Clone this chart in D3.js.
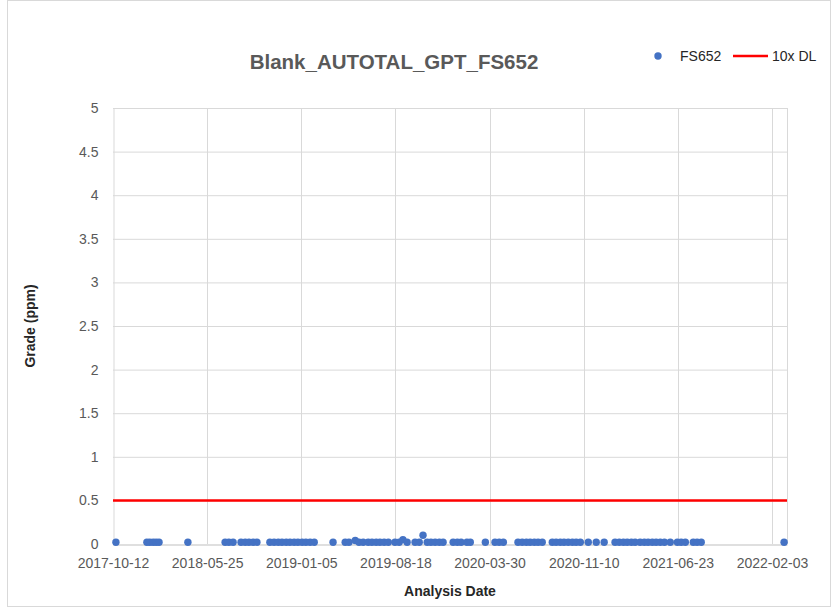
<!DOCTYPE html>
<html><head><meta charset="utf-8">
<script src="https://cdn.jsdelivr.net/npm/d3@7"></script>
<style>body{margin:0;background:#fff}svg{display:block}</style>
</head><body>
<svg id="c" width="832" height="612"></svg>
<script>
const title = "Blank_AUTOTAL_GPT_FS652";
const seriesName = "FS652";
const limitName = "10x DL";
const limitValue = 0.5;
const xTickLabels = ["2017-10-12","2018-05-25","2019-01-05","2019-08-18","2020-03-30","2020-11-10","2021-06-23","2022-02-03"];
const xDomain = ["2017-10-12","2022-03-11"];
const yTicks = [0,0.5,1,1.5,2,2.5,3,3.5,4,4.5,5];
const sampleDates = ["2017-10-19","2018-01-01","2018-01-08","2018-01-16","2018-01-23","2018-01-30","2018-04-09",
"2018-07-07","2018-07-16","2018-07-26","2018-08-14","2018-08-24","2018-09-02","2018-09-12","2018-09-21",
"2018-10-22","2018-11-01","2018-11-11","2018-11-20","2018-11-30","2018-12-09","2018-12-19","2018-12-28",
"2019-01-07","2019-01-16","2019-01-26","2019-02-05","2019-03-22","2019-04-20","2019-04-29","2019-05-14",
"2019-05-23","2019-06-02","2019-06-14","2019-06-23","2019-07-03","2019-07-12","2019-07-22","2019-08-01",
"2019-08-17","2019-08-27","2019-09-05","2019-09-15","2019-10-04","2019-10-14","2019-10-23","2019-11-02",
"2019-11-11","2019-11-21","2019-12-01","2019-12-10","2020-01-03","2020-01-13","2020-01-22","2020-02-05",
"2020-02-13","2020-03-20","2020-04-12","2020-04-22","2020-05-02","2020-06-06","2020-06-16","2020-06-26",
"2020-07-05","2020-07-15","2020-07-24","2020-08-03","2020-08-27","2020-09-05","2020-09-15","2020-09-24",
"2020-10-04","2020-10-14","2020-10-23","2020-11-02","2020-11-21","2020-12-10","2020-12-29","2021-01-24",
"2021-02-03","2021-02-13","2021-02-22","2021-03-04","2021-03-13","2021-03-25","2021-04-04","2021-04-13",
"2021-04-23","2021-05-02","2021-05-12","2021-05-22","2021-06-05","2021-06-22","2021-07-01","2021-07-11",
"2021-07-30","2021-08-08","2021-08-18","2022-03-04"];
const sampleValues = [0.02,0.02,0.02,0.02,0.02,0.02,0.02,
0.02,0.02,0.02,0.02,0.02,0.02,0.02,0.02,
0.02,0.02,0.02,0.02,0.02,0.02,0.02,0.02,
0.02,0.02,0.02,0.02,0.02,0.02,0.02,0.04,
0.02,0.02,0.02,0.02,0.02,0.02,0.02,0.02,
0.02,0.02,0.05,0.02,0.02,0.02,0.1,0.02,
0.02,0.02,0.02,0.02,0.02,0.02,0.02,0.02,
0.02,0.02,0.02,0.02,0.02,0.02,0.02,0.02,
0.02,0.02,0.02,0.02,0.02,0.02,0.02,0.02,
0.02,0.02,0.02,0.02,0.02,0.02,0.02,0.02,
0.02,0.02,0.02,0.02,0.02,0.02,0.02,0.02,
0.02,0.02,0.02,0.02,0.02,0.02,0.02,0.02,
0.02,0.02,0.02,0.02];

const parse = d3.utcParse("%Y-%m-%d");
const font = "'Liberation Sans', Arial, sans-serif";
const svg = d3.select("#c");
const L = 113, R = 787, T = 108, B = 544;

svg.append("rect").attr("x",7.5).attr("y",0.5).attr("width",823).attr("height",606)
  .attr("fill","#fff").attr("stroke","#d9d9d9");

const x = d3.scaleUtc().domain(xDomain.map(parse)).range([L,R]);
const y = d3.scaleLinear().domain([0,5]).range([B,T]);

// gridlines
svg.append("g").selectAll("line").data(yTicks.slice(1)).join("line")
  .attr("x1",L).attr("x2",R).attr("y1",d=>y(d)+0.5).attr("y2",d=>y(d)+0.5)
  .attr("stroke","#d9d9d9");
svg.append("g").selectAll("line").data(xTickLabels.slice(1)).join("line")
  .attr("x1",d=>Math.round(x(parse(d)))+0.5).attr("x2",d=>Math.round(x(parse(d)))+0.5)
  .attr("y1",T).attr("y2",B).attr("stroke","#d9d9d9");
svg.append("line").attr("x1",R+0.5).attr("x2",R+0.5).attr("y1",T).attr("y2",B).attr("stroke","#d9d9d9");

// axes
const yAxis = svg.append("g").attr("transform",`translate(${L+0.5},0)`)
  .call(d3.axisLeft(y).tickValues(yTicks).tickSize(0).tickPadding(15).tickFormat(d3.format("")));
yAxis.select(".domain").attr("stroke","#d9d9d9");
const xAxis = svg.append("g").attr("transform",`translate(0,${B+0.5})`)
  .call(d3.axisBottom(x).tickValues(xTickLabels.map(parse)).tickSize(0).tickPadding(14).tickFormat(d3.utcFormat("%Y-%m-%d")));
xAxis.select(".domain").attr("stroke","#bfbfbf");
svg.selectAll(".tick text").attr("font-family",font).attr("font-size",14).attr("fill","#595959");

// limit line
svg.append("line").attr("x1",L).attr("x2",R).attr("y1",y(limitValue)).attr("y2",y(limitValue))
  .attr("stroke","#ff0000").attr("stroke-width",2.5);

// points
svg.append("g").selectAll("circle").data(sampleDates.map((d,i)=>({d:parse(d),v:sampleValues[i]}))).join("circle")
  .attr("cx",d=>x(d.d)).attr("cy",d=>y(d.v)).attr("r",3.7).attr("fill","#4472c4");

// title
svg.append("text").attr("x",394).attr("y",69).attr("text-anchor","middle")
  .attr("font-family",font).attr("font-weight","bold").attr("font-size",20.5).attr("fill","#595959").text(title);

// legend
svg.append("circle").attr("cx",658).attr("cy",56).attr("r",3.7).attr("fill","#4472c4");
svg.append("text").attr("x",680).attr("y",61).attr("font-family",font).attr("font-size",14).attr("fill","#262626").text(seriesName);
svg.append("line").attr("x1",733).attr("x2",768).attr("y1",56).attr("y2",56).attr("stroke","#ff0000").attr("stroke-width",2.5);
svg.append("text").attr("x",772).attr("y",61).attr("font-family",font).attr("font-size",14).attr("fill","#262626").text(limitName);

// axis titles
svg.append("text").attr("x",450).attr("y",596).attr("text-anchor","middle")
  .attr("font-family",font).attr("font-weight","bold").attr("font-size",14).attr("fill","#262626").text("Analysis Date");
svg.append("text").attr("transform",`translate(35,${(T+B)/2}) rotate(-90)`).attr("text-anchor","middle")
  .attr("font-family",font).attr("font-weight","bold").attr("font-size",14).attr("fill","#262626").text("Grade (ppm)");
</script>
</body></html>
